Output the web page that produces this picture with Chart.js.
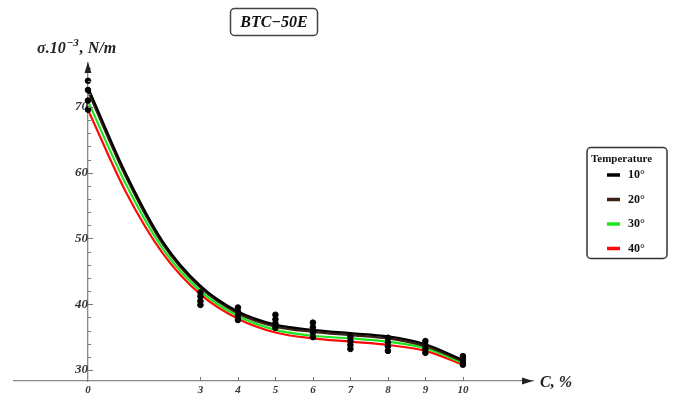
<!DOCTYPE html>
<html>
<head>
<meta charset="utf-8">
<script src="https://cdn.jsdelivr.net/npm/chart.js@4.4.0/dist/chart.umd.min.js"></script>
<style>
  html, body { margin: 0; padding: 0; background: #fff; }
  canvas { display: block; }
</style>
</head>
<body>
<canvas id="surface-chart" width="675" height="396"></canvas>
<script>
// fitted curves, sigma vs concentration
const concentration = [0, 1, 2, 3, 4, 5, 6, 7, 8, 9, 10];
const fit10 = [73.0, 60.0, 49.5, 42.8, 38.9, 36.9, 36.1, 35.6, 35.1, 33.9, 31.5];
const fit20 = [72.4, 59.5, 49.1, 42.5, 38.6, 36.6, 35.8, 35.3, 34.8, 33.6, 31.3];
const fit30 = [70.9, 58.4, 48.4, 42.0, 38.2, 36.1, 35.2, 34.8, 34.3, 33.3, 31.1];
const fit40 = [69.6, 57.2, 47.7, 41.5, 37.8, 35.7, 34.8, 34.3, 33.8, 32.9, 30.8];

// measured points
const measuredX = [0, 3, 4, 5, 6, 7, 8, 9, 10];
const meas10 = [74.0, 41.8, 39.5, 38.4, 37.2, 35.0, 34.9, 34.4, 32.1];
const meas20 = [72.6, 41.2, 38.9, 37.7, 36.5, 34.4, 34.2, 33.8, 31.7];
const meas30 = [71.0, 40.5, 38.2, 37.1, 35.7, 33.8, 33.6, 33.2, 31.2];
const meas40 = [69.6, 39.9, 37.6, 36.4, 35.0, 33.2, 32.9, 32.6, 30.8];

const temperatures = ["10°", "20°", "30°", "40°"];
const lineColors = ["#000000", "#3b2114", "#1ee61e", "#ff0a0a"];
const xTickLabels = [0, 3, 4, 5, 6, 7, 8, 9, 10];
const yTickLabels = [30, 40, 50, 60, 70];

const serif = "'Liberation Serif', 'DejaVu Serif', serif";

function toPoints(xs, ys) {
  return xs.map((x, i) => ({ x: x, y: ys[i] }));
}

const fits = [fit10, fit20, fit30, fit40];
const measured = [meas10, meas20, meas30, meas40];

const markerData = [];
measured.forEach((m) => markerData.push(...toPoints(measuredX, m)));

const datasets = [
  {
    type: "scatter",
    label: "measured",
    data: markerData,
    backgroundColor: "#000",
    borderColor: "#000",
    pointRadius: 2.8,
    showLine: false,
  },
];
// black drawn on top of the others
fits.forEach((f, i) => {
  datasets.push({
    type: "line",
    label: temperatures[i],
    data: toPoints(concentration, f),
    borderColor: lineColors[i],
    borderWidth: 2.2,
    pointRadius: 0,
    cubicInterpolationMode: "monotone",
    fill: false,
  });
});

const decorPlugin = {
  id: "decor",
  afterDraw(chart) {
    const ctx = chart.ctx;
    const xs = chart.scales.x;
    const ys = chart.scales.y;
    const area = chart.chartArea;
    const x0 = xs.getPixelForValue(0);
    ctx.save();

    // tick marks, pointing into the plot
    ctx.strokeStyle = "#777";
    ctx.lineWidth = 1;
    ys.ticks.forEach((t) => {
      const y = Math.round(ys.getPixelForValue(t.value)) + 0.5;
      const len = yTickLabels.includes(t.value) ? 5 : 3;
      ctx.beginPath();
      ctx.moveTo(x0, y);
      ctx.lineTo(x0 + len, y);
      ctx.stroke();
    });
    xTickLabels.forEach((v) => {
      if (v === 0) return;
      const x = Math.round(xs.getPixelForValue(v)) + 0.5;
      ctx.beginPath();
      ctx.moveTo(x, area.bottom);
      ctx.lineTo(x, area.bottom - 4);
      ctx.stroke();
    });

    // arrows
    ctx.fillStyle = "#222";
    ctx.beginPath();
    ctx.moveTo(area.right, area.bottom);
    ctx.lineTo(area.right - 11, area.bottom - 3.5);
    ctx.lineTo(area.right - 11, area.bottom + 3.5);
    ctx.closePath();
    ctx.fill();
    ctx.beginPath();
    ctx.moveTo(x0, area.top - 1);
    ctx.lineTo(x0 - 3.5, area.top + 10);
    ctx.lineTo(x0 + 3.5, area.top + 10);
    ctx.closePath();
    ctx.fill();

    // axis titles
    ctx.fillStyle = "#222";
    ctx.textBaseline = "alphabetic";
    ctx.textAlign = "left";
    ctx.font = "italic bold 16px " + serif;
    ctx.fillText("C, %", 540, 387);

    let tx = 37;
    const ty = 53;
    ctx.fillText("σ.10", tx, ty);
    tx += ctx.measureText("σ.10").width;
    ctx.font = "italic bold 11px " + serif;
    ctx.fillText("−3", tx + 1, ty - 7);
    tx += ctx.measureText("−3").width + 2;
    ctx.font = "italic bold 16px " + serif;
    ctx.fillText(", N/m", tx, ty);

    // title box
    ctx.strokeStyle = "#444";
    ctx.lineWidth = 1.5;
    ctx.beginPath();
    ctx.roundRect(230.5, 8.5, 87, 27, 4);
    ctx.stroke();
    ctx.font = "italic bold 16px " + serif;
    ctx.textAlign = "center";
    ctx.textBaseline = "middle";
    ctx.fillStyle = "#111";
    ctx.fillText("BTC−50E", 274, 22.5);

    // legend
    ctx.strokeStyle = "#333";
    ctx.lineWidth = 1.5;
    ctx.beginPath();
    ctx.roundRect(587, 147.5, 80, 111, 4);
    ctx.stroke();
    ctx.textAlign = "left";
    ctx.font = "bold 11px " + serif;
    ctx.fillStyle = "#111";
    ctx.fillText("Temperature", 591, 159);
    temperatures.forEach((t, i) => {
      const y = 175 + i * 24.5;
      ctx.strokeStyle = lineColors[i];
      ctx.lineWidth = 3.5;
      ctx.beginPath();
      ctx.moveTo(607, y);
      ctx.lineTo(620, y);
      ctx.stroke();
      ctx.fillStyle = "#111";
      ctx.font = "bold 12px " + serif;
      ctx.fillText(t, 628, y);
    });
    ctx.restore();
  },
};

new Chart(document.getElementById("surface-chart").getContext("2d"), {
  data: { datasets: datasets },
  options: {
    responsive: false,
    animation: false,
    layout: { padding: { left: 14, right: 142, top: 63, bottom: 0 } },
    plugins: {
      legend: { display: false },
      tooltip: { enabled: false },
    },
    scales: {
      x: {
        type: "linear",
        min: -1.973,
        max: 11.87,
        grid: { display: false, drawTicks: false },
        border: { color: "#888", width: 1.3 },
        afterBuildTicks: (scale) => {
          scale.ticks = xTickLabels.map((v) => ({ value: v }));
        },
        afterFit: (scale) => {
          scale.height = 15;
        },
        ticks: {
          padding: 3,
          color: "#333",
          font: { family: serif, size: 11, style: "italic", weight: "bold" },
          maxRotation: 0,
          autoSkip: false,
        },
      },
      y: {
        type: "linear",
        position: { x: 0 },
        min: 28.32,
        max: 76.7,
        grid: { display: false, drawTicks: false },
        border: { color: "#888", width: 1.3 },
        afterBuildTicks: (scale) => {
          const t = [];
          for (let v = 30; v <= 76; v += 2) t.push({ value: v });
          scale.ticks = t;
        },
        ticks: {
          padding: 4,
          color: "#333",
          font: { family: serif, size: 13, style: "italic", weight: "bold" },
          autoSkip: false,
          callback: (v) => (yTickLabels.includes(v) ? String(v) : ""),
        },
      },
    },
  },
  plugins: [decorPlugin],
});
</script>
</body>
</html>
